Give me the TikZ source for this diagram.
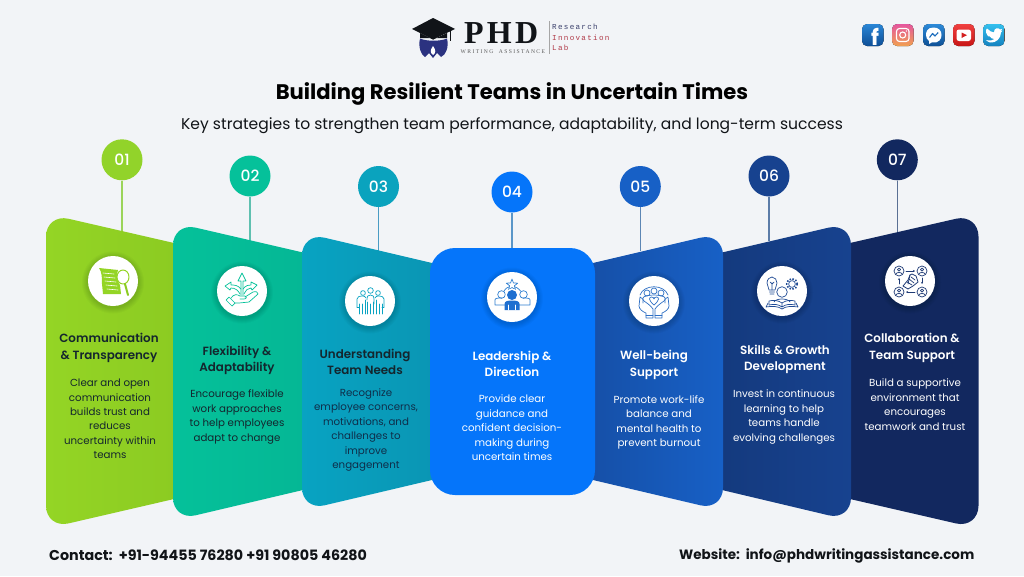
\documentclass[tikz,border=0pt]{standalone}
\usepackage{fontspec}
\usetikzlibrary{arrows.meta}
\setmainfont{Poppins}
\newfontfamily\medf{Poppins Medium}
\newfontfamily\semif{Poppins SemiBold}
\newfontfamily\logoserif{Liberation Serif}
\newfontfamily\logomono{Liberation Mono}
\definecolor{bgc}{HTML}{F2F4F7}
\definecolor{cA}{HTML}{94D525}\definecolor{cAd}{HTML}{8CCB22}
\definecolor{cB}{HTML}{05C19A}\definecolor{cBd}{HTML}{05B795}
\definecolor{cC}{HTML}{08A3C2}\definecolor{cCd}{HTML}{0A96B4}
\definecolor{cD}{HTML}{0575FA}
\definecolor{cE}{HTML}{1760C6}\definecolor{cEd}{HTML}{1650A8}
\definecolor{cF}{HTML}{17428F}\definecolor{cFd}{HTML}{143A7E}
\definecolor{cG}{HTML}{12285F}\definecolor{cGd}{HTML}{102354}
\definecolor{darktx}{HTML}{14262E}
\definecolor{inkblack}{HTML}{111418}
\definecolor{capblue}{HTML}{2B3280}
\definecolor{logoblue}{HTML}{3A3F6B}
\definecolor{logored}{HTML}{B03A48}
\definecolor{fbT}{HTML}{2A86D6}\definecolor{fbB}{HTML}{0E4E96}
\definecolor{igT}{HTML}{E5569E}\definecolor{igB}{HTML}{F0A050}
\definecolor{msT}{HTML}{2D8AD8}\definecolor{msB}{HTML}{0E5096}\definecolor{msL}{HTML}{1B6CBC}
\definecolor{ytT}{HTML}{F04040}\definecolor{ytB}{HTML}{C81515}\definecolor{ytL}{HTML}{D42020}
\definecolor{twT}{HTML}{35C0EE}\definecolor{twB}{HTML}{1482C0}
\definecolor{bA}{HTML}{92D32A}\definecolor{bC}{HTML}{0AA3BE}
\definecolor{sA}{HTML}{9BD45A}\definecolor{sB}{HTML}{5FC0B0}\definecolor{sC}{HTML}{4A9CC4}
\definecolor{sD}{HTML}{5A96C8}\definecolor{sE}{HTML}{5C86B4}\definecolor{sF}{HTML}{5C7CA8}\definecolor{sG}{HTML}{5A7094}
\definecolor{iD}{HTML}{2F7FD0}\definecolor{iDd}{HTML}{1E6FD0}
\definecolor{iE}{HTML}{2E6FC4}\definecolor{iF}{HTML}{1F4A94}\definecolor{iG}{HTML}{1F3B75}
\definecolor{bodyC}{HTML}{0F2E4A}
\tikzset{
 panelshade/.style={shade,shading=axis,shading angle=90},
 bubble/.style={circle,minimum size=41pt,inner sep=0,text=white,font=\medf\fontsize{15.5}{16}\selectfont},
 stem/.style={line width=1.1pt},
 iconbg/.style={circle,fill=white,minimum size=50pt,inner sep=0},
 head/.style={align=center,inner sep=0,font=\semif\fontsize{11.9}{16.6}\selectfont},
 bodytx/.style={align=center,inner sep=0,font=\fontsize{10.25}{14.45}\selectfont},
 foot/.style={anchor=west,inner sep=0,text=inkblack,font=\fontsize{14}{16}\selectfont\bfseries},
 ico/.style={line width=.7pt,line cap=round,line join=round},
 soc/.style={rounded corners=5pt},
 logotx/.style={inner sep=0,anchor=base west,font=\logomono\fontsize{7.6}{8}\selectfont\addfontfeatures{LetterSpace=17}},
 tip/.style={-{Stealth[length=2pt,width=2pt]}},
}
\newcommand\softshadow[2]{%
 \foreach \r in {31,30,29,28,27,26}{\fill[black,opacity=.022] (#1,#2+1.5) circle (\r);}}
\begin{document}
\begin{tikzpicture}[x=1pt,y=-1pt]
\useasboundingbox (0,0) rectangle (1024,576);
\fill[bgc] (0,0) rectangle (1024,576);

% ---- logo
\fill[inkblack] (412,29) -- (433,18) -- (455,29) -- (433,39.5) -- cycle;
\fill[inkblack] (420,33) -- (433,39.5) -- (447,33) -- (447,38) -- (420,38) -- cycle;
\draw[inkblack,line width=.8pt] (450,30) -- (450,41);
\fill[capblue] (420,38.5) .. controls (427,41.5) and (440,41.5) .. (447,38.5) .. controls (449,47) and (446,55) .. (441,57) -- (437,53) -- (433,58) -- (429,53) -- (425,57) .. controls (421,55) and (418,47) .. (420,38.5) -- cycle;
\fill[white] (433,46) .. controls (436,50) and (436,53) .. (433,55) .. controls (430,53) and (430,50) .. (433,46) -- cycle;
\node[inner sep=0,anchor=base west,text=inkblack,font=\logoserif\fontsize{32}{32}\selectfont\bfseries\addfontfeatures{LetterSpace=10}] (lphd) at (464,43.5) {PHD};
\node[inner sep=0,anchor=base west,text=black!65,font=\logoserif\fontsize{5.6}{6}\selectfont\addfontfeatures{LetterSpace=25}] (lwa) at (460.5,53) {WRITING\ \ ASSISTANCE};
\draw[black!35,line width=.5pt] (549,21) -- (549,54);
\node[logotx,text=logoblue] (lr) at (552,29.5) {Research};
\node[logotx,text=logored] (li) at (552,40) {Innovation};
\node[logotx,text=logored] (ll) at (552,50) {Lab};

% ---- social
\fill[soc,top color=fbT,bottom color=fbB] (862,24) rectangle (883.5,46);
\node[inner sep=0,text=white,font=\fontsize{22}{22}\selectfont\bfseries] (sf) at (875,37) {f};
\fill[soc,top color=igT,bottom color=igB] (892,24) rectangle (913.5,46);
\draw[white,line width=1.1pt,rounded corners=3pt] (896.5,28.5) rectangle (909,41.5);
\draw[white,line width=1.1pt] (902.7,35) circle (3);
\fill[white] (906.3,31) circle (.8);
\fill[soc,top color=msT,bottom color=msB] (923,24) rectangle (944.5,46);
\fill[white] (933.7,27.5) .. controls (927,27.5) and (926,32) .. (926,35) .. controls (926,37.5) and (927,39.5) .. (929,41) -- (929,44) -- (932,42.3) .. controls (939,43.5) and (941.5,39) .. (941.5,35) .. controls (941.5,31) and (939,27.5) .. (933.7,27.5) -- cycle;
\draw[msL,line width=1.1pt,line join=round] (929.5,37.5) -- (932.5,33.5) -- (935,36) -- (938.2,32.5);
\fill[soc,top color=ytT,bottom color=ytB] (953,24) rectangle (974.5,46);
\fill[white,rounded corners=2.5pt] (956.5,29.5) rectangle (971,41);
\fill[ytL] (961.5,32.5) -- (967,35.2) -- (961.5,38) -- cycle;
\fill[soc,top color=twT,bottom color=twB] (983,24) rectangle (1004.5,46);
\fill[white] (986,40) .. controls (990,41) and (993,40.5) .. (994.5,39) .. controls (992,39) and (990.5,38) .. (990,36.5) .. controls (989,36.5) and (988.5,36.5) .. (988,36.2) .. controls (987,35.5) and (986.5,34.5) .. (986.5,33.5) .. controls (985.8,33) and (985.8,29) .. (987,28.5) .. controls (989,31) and (992,32.2) .. (994,32.4) .. controls (993.6,28) and (998.5,27) .. (1000,29.5) -- (1002.2,28.8) -- (1000.9,31) -- (1002.4,30.7) -- (1001,32.5) .. controls (1001,38) and (996,43.5) .. (990,42.5) .. controls (988.5,42.2) and (987,41) .. (986,40) -- cycle;

% ---- titles
\node[inner sep=0,text=black,font=\fontsize{21.1}{24}\selectfont\bfseries] (title) at (512,93.5) {Building Resilient Teams in Uncertain Times};
\node[inner sep=0,text=inkblack,font=\fontsize{15.55}{18}\selectfont] (subtitle) at (512,126) {Key strategies to strengthen team performance, adaptability, and long-term success};

% ---- stems and bubbles
\node[bubble,fill=bA] (b1) at (122,159.8) {01};
\node[bubble,fill=cB] (b2) at (250,176) {02};
\node[bubble,fill=bC] (b3) at (378.5,186.5) {03};
\node[bubble,fill=cD] (b4) at (512,192) {04};
\node[bubble,fill=cE] (b5) at (640.3,186.5) {05};
\node[bubble,fill=cF] (b6) at (769,176) {06};
\node[bubble,fill=cG] (b7) at (897.3,159.8) {07};
\coordinate (s1) at (122,232);
\coordinate (s2) at (250,241);
\coordinate (s3) at (378.5,251);
\coordinate (s4) at (512,249);
\coordinate (s5) at (640.3,251);
\coordinate (s6) at (769,241);
\coordinate (s7) at (897.3,233);
\draw[stem,sA] (b1) -- (s1);
\draw[stem,sB] (b2) -- (s2);
\draw[stem,sC] (b3) -- (s3);
\draw[stem,sD] (b4) -- (s4);
\draw[stem,sE] (b5) -- (s5);
\draw[stem,sF] (b6) -- (s6);
\draw[stem,sG] (b7) -- (s7);

% ---- panels
\path[panelshade,left color=cA,middle color=cA,right color=cAd]
  (174,243) [rounded corners=23pt] -- (46,213.6) -- (46,528.6) [sharp corners] -- (174,499) -- cycle;
\path[panelshade,left color=cB,middle color=cB,right color=cBd]
  (303,252.5) [rounded corners=23pt] -- (173,222.4) -- (173,520.6) [sharp corners] -- (303,490) -- cycle;
\path[panelshade,left color=cC,middle color=cC,right color=cCd]
  (432,263) [rounded corners=23pt] -- (302,232.4) -- (302,510.6) [sharp corners] -- (432,480) -- cycle;
\path[panelshade,left color=cG,middle color=cG,right color=cG]
  (850,243) [rounded corners=23pt] -- (978.5,213.6) -- (978.5,528.6) [sharp corners] -- (850,499) -- cycle;
\path[panelshade,left color=cFd,middle color=cF,right color=cF]
  (722,252.5) [rounded corners=23pt] -- (851,222.4) -- (851,520.6) [sharp corners] -- (722,490) -- cycle;
\path[panelshade,left color=cEd,middle color=cE,right color=cE]
  (593,263) [rounded corners=23pt] -- (723,232.4) -- (723,510.6) [sharp corners] -- (593,480) -- cycle;
\fill[cD,rounded corners=25pt] (430,248) rectangle (595,495);

% ---- icon discs
\softshadow{113}{281}\softshadow{242}{291}\softshadow{370}{301}\softshadow{512}{297}\softshadow{654}{301}\softshadow{782}{291}\softshadow{910}{281}
\node[iconbg] (i1) at (113,281) {};
\node[iconbg] (i2) at (242,291) {};
\node[iconbg] (i3) at (370,301) {};
\node[iconbg] (i4) at (512,297) {};
\node[iconbg] (i5) at (654,301) {};
\node[iconbg] (i6) at (782,291) {};
\node[iconbg] (i7) at (910,281) {};

% icon 1: document and lens
\begin{scope}[shift={(113,281)},ico]
 \fill[cA] (-14,-13) -- (5,-11) .. controls (3,-6) and (4,0) .. (7,4) -- (8,13) -- (-10,13) -- (-11,3) .. controls (-11,-3) and (-11,-9) .. (-14,-13) -- cycle;
 \draw[white,line width=.6pt] (-10,-8) -- (1,-7) (-9,-4) -- (2,-3) (-8,0) -- (3,1) (-7,4) -- (4,5) (-6,8) -- (5,9);
 \draw[cA,fill=white,line width=1pt] (10,-4) ellipse (6 and 7);
 \draw[cAd,line width=2pt] (12,3) -- (15,14);
\end{scope}
% icon 2: hand and arrows
\begin{scope}[shift={(242,291)},ico,draw=cB]
 \draw (-16,9) -- (-10,15) -- (-7,12) -- (-13,6) -- cycle;
 \draw (-11,7) .. controls (-8,3) and (-5,3) .. (-2,5) -- (3,5) .. controls (5,5) and (5,8) .. (2,8) -- (-2,8);
 \draw (3,6) -- (11,1) .. controls (14,0) and (16,1) .. (16,3) -- (7,11) -- (-3,12) -- (-7,12);
 \draw (-1,4) -- (-1,-10) -- (-4,-10) -- (0,-18) -- (4,-10) -- (1,-10) -- (1,4);
 \draw (-1,-2) .. controls (-4,-6) and (-8,-6) .. (-11,-6) -- (-11,-9) -- (-17,-5) -- (-12,-1) -- (-11,-3) .. controls (-7,-3) and (-4,-1) .. (-2,3);
 \draw (1,-2) .. controls (4,-6) and (7,-6) .. (9,-6) -- (9,-9) -- (15,-6) -- (10,-1) -- (9,-3) .. controls (6,-3) and (4,-1) .. (2,3);
\end{scope}
% icon 3: three people
\begin{scope}[shift={(370,301)},ico,draw=cC]
 \draw (-7,-8) circle (2.4) (0.5,-10.5) circle (2.8) (8,-8) circle (2.4);
 \draw (-5,13) -- (-5,-1) (6,13) -- (6,-1) (-3,13) -- (-3,1) (3.5,13) -- (3.5,1) (0.3,13) -- (0.3,3);
 \draw (-3,-1) .. controls (-3,-5) and (-2,-6) .. (0.5,-6) .. controls (3,-6) and (4,-5) .. (4,-1) -- (4,3);
 \draw (-13,6) -- (-13,-2) .. controls (-13,-4) and (-11,-5) .. (-7,-5) .. controls (-5,-5) and (-5,-4) .. (-4,-3);
 \draw (14,6) -- (14,-2) .. controls (14,-4) and (12,-5) .. (8,-5) .. controls (6,-5) and (6,-4) .. (5,-3);
 \draw (-11,13) -- (-11,3) (-8,13) -- (-8,3) (9,13) -- (9,3) (12,13) -- (12,3);
 \draw (-13,6) -- (-11,6) (14,6) -- (12,6);
\end{scope}
% icon 4: leader
\begin{scope}[shift={(512,297)},ico]
 \draw[iD,shift={(0,-12)}] (-90:6) -- (-54:2.5) -- (-18:6) -- (18:2.5) -- (54:6) -- (90:2.5) -- (126:6) -- (162:2.5) -- (198:6) -- (234:2.5) -- cycle;
 \draw[iD] (-10.5,-2.5) circle (3.8) (11.5,-2.5) circle (3.8);
 \draw[iD] (-7,8) -- (-17,8) -- (-17,3) .. controls (-17,1) and (-14,1) .. (-10,1) (7,8) -- (18,8) -- (18,3) .. controls (18,1) and (15,1) .. (11,1);
 \draw[iD] (-8,-6) .. controls (-6,-9) and (-4,-10) .. (-3,-10) (8.5,-6) .. controls (6,-9) and (4,-10) .. (3,-10);
 \fill[white] (0,-2) circle (6.4);
 \fill[iDd] (0,-2) circle (5);
 \fill[iDd] (-7.5,13) -- (-7.5,7) .. controls (-7.5,4) and (-4,3.5) .. (0,3.5) .. controls (4,3.5) and (7.5,4) .. (7.5,7) -- (7.5,13) -- cycle;
 \draw[white,line width=.6pt] (-3.5,8) -- (-3.5,13) (3.5,8) -- (3.5,13);
\end{scope}
% icon 5: caring hands
\begin{scope}[shift={(654,301)},ico,draw=iE]
 \draw (-7,-8) circle (3) (0,-10) circle (3) (7,-8) circle (3);
 \draw (-11,2) -- (-11,-3) .. controls (-11,-5) and (-4,-6) .. (0,-6) .. controls (4,-6) and (11,-5) .. (11,-3) -- (11,2);
 \draw (-14,-6) .. controls (-10,-17) and (10,-17) .. (14,-6);
 \draw (0,4) .. controls (-6,-1) and (-5,-4) .. (-2.5,-4) .. controls (-1,-4) and (0,-3) .. (0,-2) .. controls (0,-3) and (1,-4) .. (2.5,-4) .. controls (5,-4) and (6,-1) .. (0,4) -- cycle;
 \draw (-14,-4) -- (-15,5) .. controls (-15,8) and (-11,11) .. (-8,12) -- (-8,17) -- (-1,17) -- (-1,8) .. controls (-3,5) and (-7,2) .. (-10,0) .. controls (-11,-1) and (-12,-4) .. (-14,-4);
 \draw (14,-4) -- (15,5) .. controls (15,8) and (11,11) .. (8,12) -- (8,17) -- (1,17) -- (1,8) .. controls (3,5) and (7,2) .. (10,0) .. controls (11,-1) and (12,-4) .. (14,-4);
 \draw (-8,14) -- (-1,14) (8,14) -- (1,14);
\end{scope}
% icon 6: skills
\begin{scope}[shift={(782,291)},ico,draw=iF]
 \draw (-15,-8) .. controls (-15,-12) and (-12,-14) .. (-10,-14) .. controls (-7,-14) and (-5,-11) .. (-5,-8) .. controls (-5,-5) and (-7,-4) .. (-7,-1) -- (-13,-1) .. controls (-13,-4) and (-15,-5) .. (-15,-8) -- cycle;
 \draw (-12.5,1) -- (-7.5,1) (-12,3) -- (-8,3) (-10,-1) -- (-10,-8) (-12,-9) -- (-10,-7) -- (-8,-9);
 \draw (10,-7) circle (3.4);
 \draw[line width=1.6pt,dash pattern=on 1.5pt off 1.6pt,line cap=butt] (10,-7) circle (5.3);
 \draw (0,1) circle (5.3);
 \draw (-8,11) .. controls (-6,7) and (6,7) .. (8,11);
 \draw (0,12) .. controls (-4,9) and (-9,9) .. (-13,10) -- (-13,14) .. controls (-8,13) and (-4,13) .. (0,16) .. controls (4,13) and (8,13) .. (13,14) -- (13,10) .. controls (9,9) and (4,9) .. (0,12) -- cycle (0,12) -- (0,16);
 \draw (-14,12) -- (-16,16) .. controls (-10,15) and (-4,15) .. (0,18) .. controls (4,15) and (10,15) .. (16,16) -- (14,12);
\end{scope}
% icon 7: collaboration
\begin{scope}[shift={(910,281)},ico,draw=iG]
 \foreach \px/\py in {-11/-10,12/-10,-11/11,12/11}{
  \draw (\px,\py) circle (5);
  \draw (\px,\py-1.4) circle (1.6);
  \draw (\px-3.2,\py+3) .. controls (\px-2.5,\py+1) and (\px+2.5,\py+1) .. (\px+3.2,\py+3);
 }
 \draw[tip] (-4,-10) -- (5,-10);
 \draw[tip] (5,11) -- (-4,11);
 \draw[tip] (-11,3) -- (-11,-3);
 \draw[tip] (12,-3) -- (12,3);
 \draw[line width=.8pt] (-7,5) -- (-2,-1) -- (0,-6) -- (2,-7) -- (6,-5) -- (8,1) -- (3,5) -- (-2,8) -- cycle;
 \draw (-3,1) -- (2,4) (-1,-2) -- (4,2) (1,-4) -- (5,-1) (0,-6) -- (-2,3);
\end{scope}

% ---- texts
\node[head,text=darktx] (h1) at (109,347.7) {Communication\\\& Transparency};
\node[bodytx,text=darktx] (t1) at (110,419) {Clear and open\\communication\\builds trust and\\reduces\\uncertainty within\\teams};
\node[head,text=darktx] (h2) at (237,360.5) {Flexibility \&\\Adaptability};
\node[bodytx,text=darktx] (t2) at (237,417) {Encourage flexible\\work approaches\\to help employees\\adapt to change};
\node[head,text=darktx] (h3) at (365,362) {Understanding\\Team Needs};
\node[bodytx,text=bodyC] (t3) at (366,430) {Recognize\\employee concerns,\\motivations, and\\challenges to\\improve\\engagement};
\node[head,text=white] (h4) at (512,364) {Leadership \&\\Direction};
\node[bodytx,text=white] (t4) at (512,428) {Provide clear\\guidance and\\confident decision-\\making during\\uncertain times};
\node[head,text=white] (h5) at (654,365) {Well-being\\Support};
\node[bodytx,text=white] (t5) at (659,422.5) {Promote work-life\\balance and\\mental health to\\prevent burnout};
\node[head,text=white] (h6) at (785,359.5) {Skills \& Growth\\Development};
\node[bodytx,text=white] (t6) at (784,417) {Invest in continuous\\learning to help\\teams handle\\evolving challenges};
\node[head,text=white] (h7) at (912,347.7) {Collaboration \&\\Team Support};
\node[bodytx,text=white] (t7) at (915,404.5) {Build a supportive\\environment that\\encourages\\teamwork and trust};

\node[foot,font=\fontsize{14.27}{16}\selectfont\bfseries] (contact) at (49,555.5) {Contact:\ \ +91-94455 76280 +91 90805 46280};
\node[foot,font=\fontsize{13.5}{16}\selectfont\bfseries] (web) at (679,555.5) {Website:\ \ info@phdwritingassistance.com};
\end{tikzpicture}
\end{document}
